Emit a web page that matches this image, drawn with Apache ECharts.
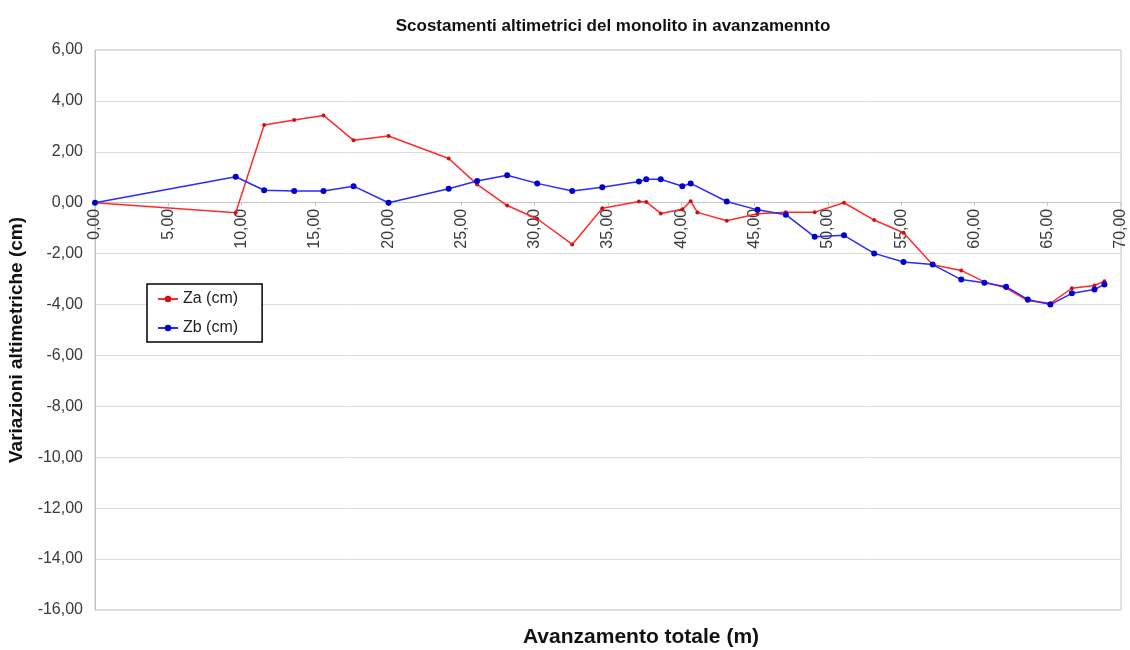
<!DOCTYPE html>
<html>
<head>
<meta charset="utf-8">
<script src="https://cdn.jsdelivr.net/npm/echarts@6/dist/echarts.min.js"></script>
<style>html,body{margin:0;padding:0;background:#fff}#c{width:1130px;height:650px}</style>
</head>
<body>
<div id="c"></div>
<script>
// Data
const zaX = [0, 9.6, 11.54, 13.59, 15.59, 17.64, 20.03, 24.13, 26.07, 28.12, 30.17, 32.56, 34.61, 37.11, 37.61, 38.6, 40.07, 40.64, 41.1, 43.1, 45.2, 47.13, 49.1, 51.1, 53.16, 55.16, 57.15, 59.1, 60.68, 62.16, 63.64, 65.18, 66.65, 68.19, 68.87];
const zaY = [0, -0.39, 3.05, 3.25, 3.43, 2.45, 2.62, 1.74, 0.72, -0.11, -0.63, -1.64, -0.22, 0.05, 0.03, -0.42, -0.26, 0.06, -0.38, -0.71, -0.43, -0.37, -0.37, 0.0, -0.68, -1.18, -2.44, -2.66, -3.11, -3.35, -3.85, -3.95, -3.36, -3.25, -3.08];
const zbX = [0, 9.6, 11.54, 13.59, 15.59, 17.64, 20.03, 24.13, 26.07, 28.12, 30.17, 32.56, 34.61, 37.11, 37.61, 38.6, 40.07, 40.64, 43.1, 45.2, 47.13, 49.1, 51.1, 53.16, 55.16, 57.15, 59.1, 60.68, 62.16, 63.64, 65.18, 66.65, 68.19, 68.87];
const zbY = [0, 1.02, 0.49, 0.46, 0.46, 0.65, 0.0, 0.55, 0.85, 1.08, 0.76, 0.46, 0.61, 0.83, 0.92, 0.92, 0.65, 0.76, 0.05, -0.28, -0.47, -1.34, -1.28, -1.99, -2.33, -2.43, -3.02, -3.14, -3.3, -3.8, -4.0, -3.56, -3.41, -3.21];
const seriesNames = ['Za (cm)', 'Zb (cm)'];
const chartTitle = 'Scostamenti altimetrici del monolito in avanzamennto';
const xAxisName = 'Avanzamento totale (m)';
const yAxisName = 'Variazioni altimetriche (cm)';
const yMin = -16, yMax = 6;

const pairs = (xs, ys) => xs.map((x, i) => [x, ys[i]]);
const fmt = v => v.toFixed(2).replace('.', ',');
const FONT = '"Liberation Sans", Arial, sans-serif';

const GRID = {left: 95, right: 9, top: 50, bottom: 40};
const plotH = 650 - GRID.top - GRID.bottom;
// distance from plot bottom up to the y = 0 line
const zeroOffset = plotH * (0 - yMin) / (yMax - yMin);

const chart = echarts.init(document.getElementById('c'), null, {renderer: 'canvas'});
chart.setOption({
  animation: false,
  backgroundColor: '#ffffff',
  title: {
    text: chartTitle,
    left: 608, top: 13, textAlign: 'center',
    textStyle: {fontFamily: FONT, fontSize: 17, fontWeight: 'bold', color: '#111'}
  },
  legend: {
    orient: 'vertical',
    left: 147, top: 284,
    padding: [7, 24, 6, 10],
    itemGap: 13,
    itemWidth: 20, itemHeight: 8,
    borderColor: '#000', borderWidth: 1.5,
    backgroundColor: '#fff',
    textStyle: {fontFamily: FONT, fontSize: 16, color: '#222'},
    data: seriesNames
  },
  grid: {
    left: GRID.left, right: GRID.right, top: GRID.top, bottom: GRID.bottom,
    containLabel: false,
    outerBoundsMode: 'none',
    show: true, borderColor: '#c4c4c4', borderWidth: 1, backgroundColor: '#fff'
  },
  xAxis: {
    type: 'value',
    position: 'bottom',
    offset: -zeroOffset,
    min: 0, max: 70, interval: 5,
    name: xAxisName,
    nameLocation: 'middle',
    nameGap: 424,
    nameTextStyle: {fontFamily: FONT, fontSize: 21, fontWeight: 'bold', color: '#111', padding: [0, 0, 0, 66]},
    axisLine: {onZero: false, lineStyle: {color: '#c4c4c4', width: 1}},
    axisTick: {show: true, length: 3, inside: false, lineStyle: {color: '#c4c4c4'}},
    minorTick: {show: false},
    splitLine: {show: false},
    axisLabel: {rotate: 90, margin: 6, formatter: fmt, fontFamily: FONT, fontSize: 16, color: '#3a3a3a'}
  },
  yAxis: {
    type: 'value',
    min: yMin, max: yMax, interval: 2,
    name: yAxisName,
    nameLocation: 'middle',
    nameGap: 67,
    nameTextStyle: {fontFamily: FONT, fontSize: 19, fontWeight: 'bold', color: '#111', padding: [0, 20, 0, 0]},
    axisLine: {show: true, lineStyle: {color: '#c4c4c4'}},
    axisTick: {show: false},
    splitLine: {show: true, lineStyle: {color: '#dcdcdc', width: 1}},
    axisLabel: {formatter: fmt, margin: 12, fontFamily: FONT, fontSize: 16, color: '#3a3a3a'}
  },
  series: [
    {
      name: seriesNames[0], type: 'line',
      data: pairs(zaX, zaY),
      symbol: 'circle', symbolSize: 4,
      lineStyle: {color: '#ff2a2a', width: 1.5},
      itemStyle: {color: '#d01010'},
      z: 3
    },
    {
      name: seriesNames[1], type: 'line',
      data: pairs(zbX, zbY),
      symbol: 'circle', symbolSize: 6,
      lineStyle: {color: '#2a2aff', width: 1.5},
      itemStyle: {color: '#0000d0'},
      z: 4
    }
  ]
});
</script>
</body>
</html>
